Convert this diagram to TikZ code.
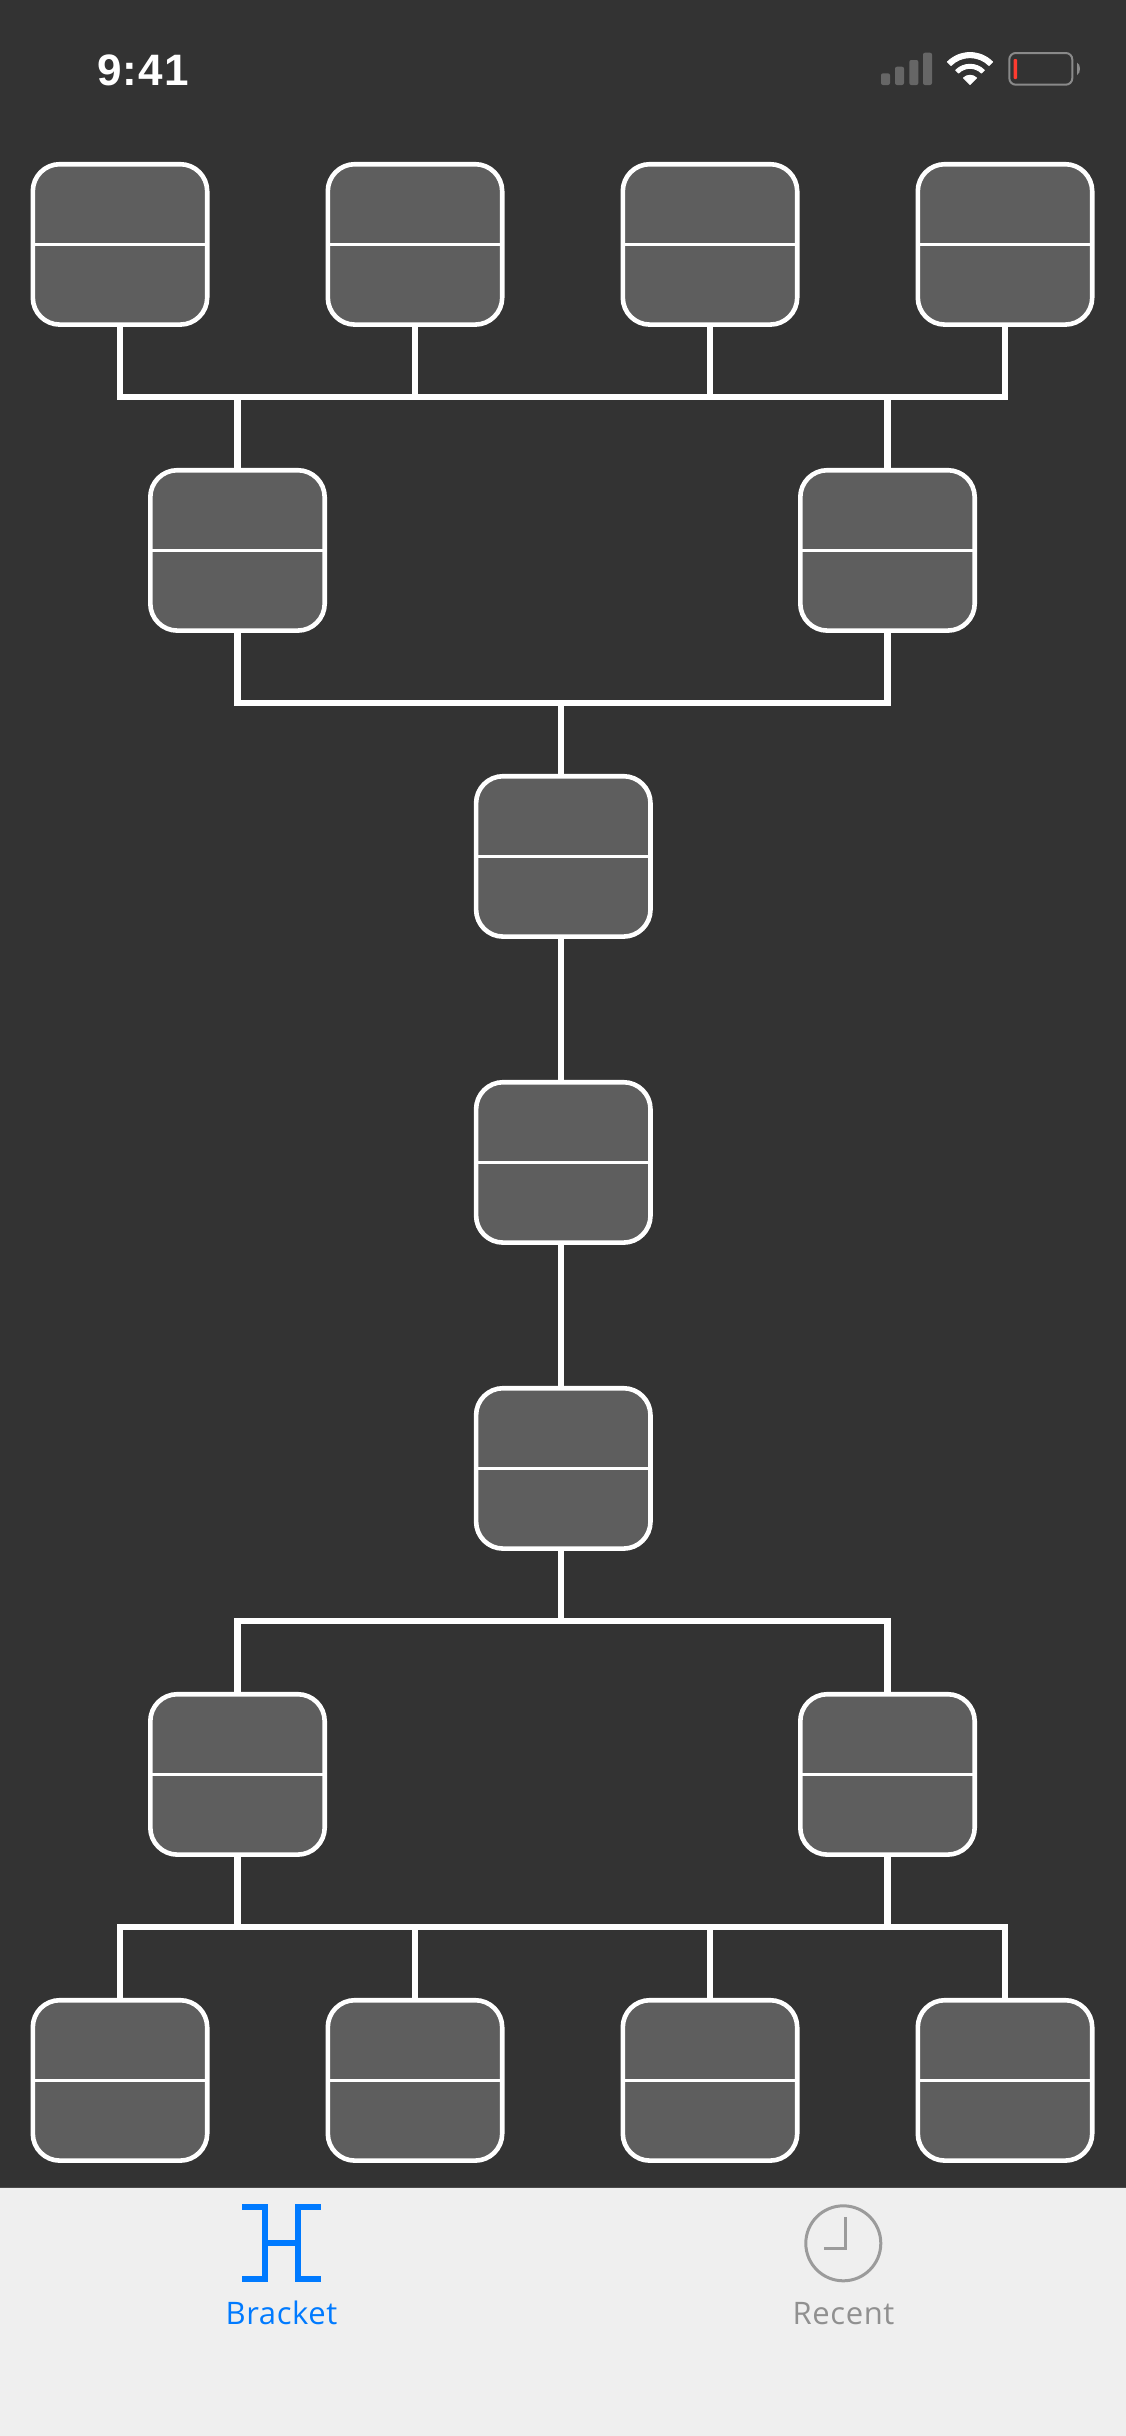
\documentclass[tikz,border=0pt]{standalone}
\usepackage{fontspec}
\setmainfont{Liberation Sans}
\newfontfamily\tabfont[LetterSpace=2]{Open Sans}
\newfontfamily\clockfont[LetterSpace=2.5]{Liberation Sans}
\definecolor{screenbg}{HTML}{333333}
\definecolor{boxfill}{HTML}{5E5E5E}
\definecolor{tabbg}{HTML}{EFEFEF}
\definecolor{tabblue}{HTML}{007AFF}
\definecolor{tabgray}{HTML}{9B9B9B}
\definecolor{textgray}{HTML}{909090}
\definecolor{signalgray}{HTML}{666666}
\definecolor{battgray}{HTML}{8A8A8A}
\definecolor{battred}{HTML}{FF3B30}
\begin{document}
\begin{tikzpicture}[x = 1pt, y = -1pt,
match/.style = {rectangle, draw = white, line width = 4.6pt, fill = boxfill, rounded corners = 27pt,
  minimum width = 174.4pt, minimum height = 160.4pt, inner sep = 0pt,
  path picture = {\draw[white, line width = 3.2pt] (path picture bounding box.west) -- (path picture bounding box.east);}},
wire/.style = {draw = white, line width = 6.2pt, line join = miter},
bar/.style = {fill = signalgray, rounded corners = 2pt},
wifi/.style = {fill = white, draw = white, line width = 1pt, line join = round},
tabicon/.style = {line width = 6pt, line join = miter},
tablabel/.style = {inner sep = 0pt, anchor = base, font = \tabfont\fontsize{31}{33}\selectfont}]

\useasboundingbox (0,0) rectangle (1125,2436);
\fill[screenbg] (-2,-2) rectangle (1128,2187);
\fill[tabbg] (-2,2187) rectangle (1128,2439);
\draw[black!70, line width = 1pt] (-2,2187) -- (1128,2187);

% Status bar
\node[inner sep = 0pt, anchor = base west, text = white, font = \clockfont\bfseries\fontsize{44}{48}\selectfont] (clock) at (97,85) {9:41};
\fill[bar] (881,73.3) rectangle (890,85);
\fill[bar] (895,66.7) rectangle (904,85);
\fill[bar] (909.3,60) rectangle (918.3,85);
\fill[bar] (923,52.7) rectangle (932,85);
\filldraw[wifi] (970,84.5) ++(45:31.9pt) arc[start angle = 45, end angle = 135, radius = 31.9pt] -- ++(-45:5pt) arc[start angle = 135, end angle = 45, radius = 26.9pt] -- cycle;
\filldraw[wifi] (970,84.5) ++(45:20.2pt) arc[start angle = 45, end angle = 135, radius = 20.2pt] -- ++(-45:4pt) arc[start angle = 135, end angle = 45, radius = 16.2pt] -- cycle;
\filldraw[wifi] (970,84.5) ++(45:9.2pt) arc[start angle = 45, end angle = 135, radius = 9.2pt] -- (970,84.5) -- cycle;
\draw[battgray, line width = 2pt, rounded corners = 6.5pt] (1009.3,53) rectangle (1072.3,84.7);
\fill[battred, rounded corners = 1pt] (1013.7,59) rectangle (1017,79);
\fill[battgray] (1077,62.7) .. controls (1081,64) and (1081,73.7) .. (1077,75) -- cycle;

% Top half of the bracket
\node[match] (a1) at (120,244.4) {};
\node[match] (a2) at (415,244.4) {};
\node[match] (a3) at (710,244.4) {};
\node[match] (a4) at (1005,244.4) {};
\node[match] (b1) at (237.5,550.4) {};
\node[match] (b2) at (887.5,550.4) {};

% Middle column
\node[match] (c1) at (563.3,856.4) {};
\node[match] (c2) at (563.3,1162.4) {};
\node[match] (c3) at (563.3,1468.4) {};

% Bottom half of the bracket
\node[match] (d1) at (237.5,1774.4) {};
\node[match] (d2) at (887.5,1774.4) {};
\node[match] (e1) at (120,2080.4) {};
\node[match] (e2) at (415,2080.4) {};
\node[match] (e3) at (710,2080.4) {};
\node[match] (e4) at (1005,2080.4) {};

% Junctions on the horizontal lines
\coordinate (ja) at (561.3,397.3);
\coordinate (jb) at (561.3,703.3);
\coordinate (jc) at (561.3,1621.3);
\coordinate (jd) at (561.3,1927.3);

% Connect boxes
\draw[wire] (a1.south) |- (a4.south |- ja) -- (a4.south);
\draw[wire] (a2.south) -- (a2.south |- ja);
\draw[wire] (a3.south) -- (a3.south |- ja);
\draw[wire] (b1.north) -- (b1.north |- ja);
\draw[wire] (b2.north) -- (b2.north |- ja);
\draw[wire] (b1.south) |- (b2.south |- jb) -- (b2.south);
\draw[wire] (jb) -- (jb |- c1.north);
\draw[wire] (jb |- c1.south) -- (jb |- c2.north);
\draw[wire] (jb |- c2.south) -- (jb |- c3.north);
\draw[wire] (jc |- c3.south) -- (jc);
\draw[wire] (d1.north) |- (d2.north |- jc) -- (d2.north);
\draw[wire] (d1.south) -- (d1.south |- jd);
\draw[wire] (d2.south) -- (d2.south |- jd);
\draw[wire] (e1.north) |- (e4.north |- jd) -- (e4.north);
\draw[wire] (e2.north) -- (e2.north |- jd);
\draw[wire] (e3.north) -- (e3.north |- jd);

% Tab bar
\draw[tabicon, tabblue] (242.3,2207.3) -- (264.7,2207.3) -- (264.7,2279.3) -- (242.3,2279.3);
\draw[tabicon, tabblue] (320.7,2207.3) -- (298,2207.3) -- (298,2279.3) -- (320.7,2279.3);
\draw[tabicon, tabblue] (264.7,2243) -- (298,2243);
\node[tablabel, text = tabblue] (bracket) at (281.5,2324) {Bracket};
\draw[tabgray, line width = 3pt] (843.3,2243.3) circle[radius = 37.5pt];
\draw[tabgray, line width = 3pt] (845.3,2217) -- (845.3,2248.5) -- (824,2248.5);
\node[tablabel, text = textgray] (recent) at (843.5,2324) {Recent};

\end{tikzpicture}
\end{document}
